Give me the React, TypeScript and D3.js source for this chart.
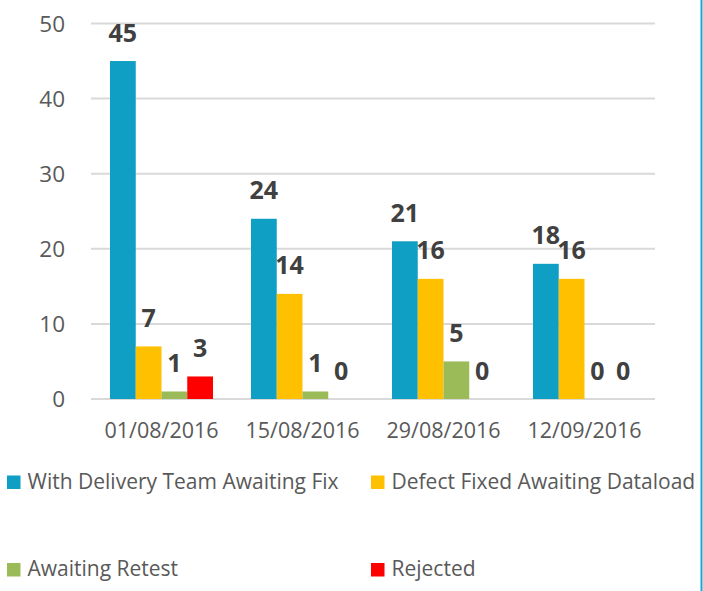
import { useEffect, useRef } from "react";
import * as d3 from "d3";

const dates = ["01/08/2016", "15/08/2016", "29/08/2016", "12/09/2016"];
const seriesNames = [
  "With Delivery Team Awaiting Fix",
  "Defect Fixed Awaiting Dataload",
  "Awaiting Retest",
  "Rejected",
];
const withDelivery = [45, 24, 21, 18];
const defectFixed = [7, 14, 16, 16];
const awaitingRetest = [1, 1, 5, 0];
const rejected = [3, 0, 0, 0];
const yTicks = [0, 10, 20, 30, 40, 50];

const colors = ["#0f9ec4", "#ffc000", "#9bbb59", "#ff0000"];

export default function App() {
  const ref = useRef<SVGSVGElement>(null);

  useEffect(() => {
    if (!ref.current) return;
    const width = 703;
    const height = 591;
    const svg = d3.select(ref.current);
    svg.selectAll("*").remove();

    const values = [withDelivery, defectFixed, awaitingRetest, rejected];
    const data = dates.map((d, i) => ({
      date: d,
      vals: seriesNames.map((s, j) => ({ key: s, idx: j, value: values[j][i] })),
    }));

    const x = d3.scaleBand().domain(dates).range([91, 655]);
    const xInner = d3.scaleBand<number>().domain([0, 1, 2, 3]).range([19, 122]);
    const y = d3.scaleLinear().domain([0, 50]).range([399, 23.5]);

    svg.append("rect").attr("width", width).attr("height", height).attr("fill", "#ffffff");

    // gridlines
    svg
      .append("g")
      .selectAll("line")
      .data(yTicks)
      .enter()
      .append("line")
      .attr("x1", 91)
      .attr("x2", 655)
      .attr("y1", (d) => y(d))
      .attr("y2", (d) => y(d))
      .attr("stroke", "#d9d9d9")
      .attr("stroke-width", 2);

    // y tick labels
    svg
      .append("g")
      .selectAll("text")
      .data(yTicks)
      .enter()
      .append("text")
      .attr("x", 65)
      .attr("y", (d) => y(d))
      .attr("dy", "0.36em")
      .attr("text-anchor", "end")
      .attr("font-family", "Open Sans")
      .attr("font-size", 22.5)
      .attr("fill", "#595959")
      .text((d) => d);

    // x labels
    svg
      .append("g")
      .selectAll("text")
      .data(dates)
      .enter()
      .append("text")
      .attr("x", (d) => (x(d) || 0) + x.bandwidth() / 2)
      .attr("y", 438)
      .attr("text-anchor", "middle")
      .attr("font-family", "Open Sans")
      .attr("font-size", 21.5)
      .attr("fill", "#595959")
      .text((d) => d);

    const groups = svg
      .append("g")
      .selectAll("g")
      .data(data)
      .enter()
      .append("g")
      .attr("transform", (d) => `translate(${x(d.date)},0)`);

    groups
      .selectAll("rect")
      .data((d) => d.vals)
      .enter()
      .append("rect")
      .attr("x", (d) => xInner(d.idx) || 0)
      .attr("y", (d) => y(d.value))
      .attr("width", xInner.bandwidth())
      .attr("height", (d) => y(0) - y(d.value))
      .attr("fill", (d) => colors[d.idx]);

    groups
      .selectAll("text")
      .data((d) => d.vals)
      .enter()
      .append("text")
      .attr("x", (d) => (xInner(d.idx) || 0) + xInner.bandwidth() / 2)
      .attr("y", (d) => y(d.value) - 19.5)
      .attr("text-anchor", "middle")
      .attr("font-family", "Open Sans")
      .attr("font-weight", "bold")
      .attr("font-size", 25)
      .attr("fill", "#404040")
      .text((d) => d.value);

    // legend
    const legendPos = [
      { x: 7, y: 482 },
      { x: 371, y: 482 },
      { x: 7, y: 569.5 },
      { x: 371, y: 569.5 },
    ];
    const legend = svg
      .append("g")
      .selectAll("g")
      .data(seriesNames)
      .enter()
      .append("g")
      .attr("transform", (_d, i) => `translate(${legendPos[i].x},${legendPos[i].y})`);

    legend
      .append("rect")
      .attr("x", 0)
      .attr("y", -6.5)
      .attr("width", 13.5)
      .attr("height", 13.5)
      .attr("fill", (_d, i) => colors[i]);

    legend
      .append("text")
      .attr("x", 20.5)
      .attr("y", 6.5)
      .attr("font-family", "Open Sans")
      .attr("font-size", 21)
      .attr("fill", "#595959")
      .text((d) => d);

    // right border line
    svg
      .append("rect")
      .attr("x", 700.5)
      .attr("y", 0)
      .attr("width", 2)
      .attr("height", height)
      .attr("fill", "#19a9d0");
  }, []);

  return (
    <svg
      ref={ref}
      width={703}
      height={591}
      style={{ position: "absolute", left: 0, top: 0 }}
    />
  );
}
